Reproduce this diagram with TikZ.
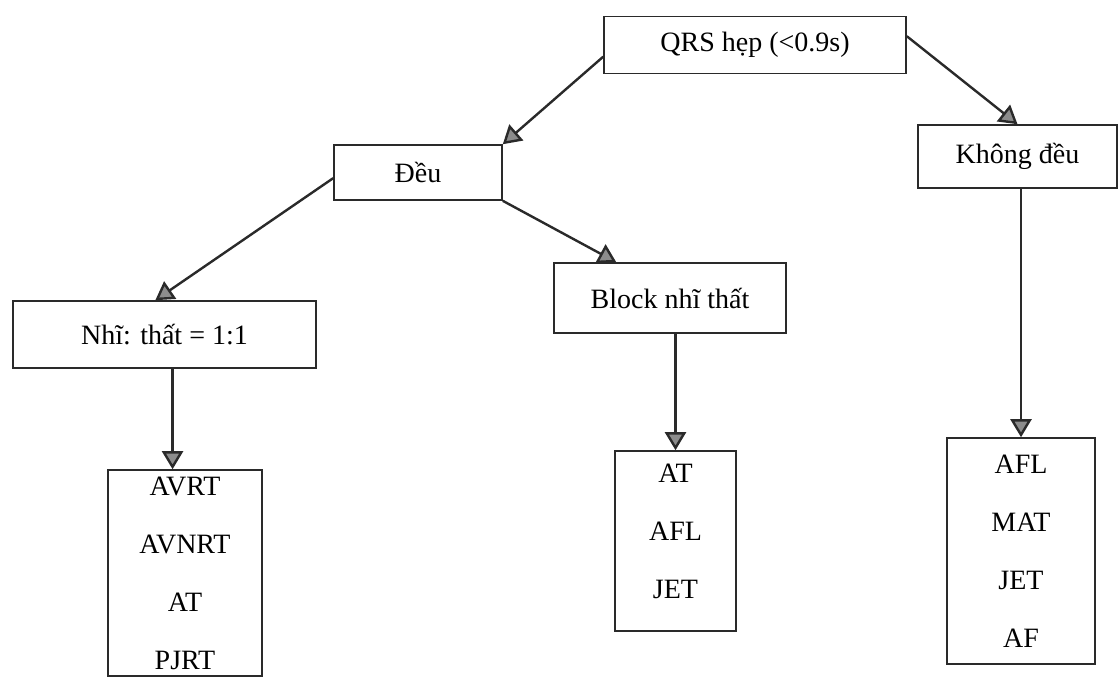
\documentclass[tikz,border=0pt]{standalone}
\usepackage{fontspec}
\setmainfont{Liberation Serif}
\usetikzlibrary{positioning,arrows.meta,calc}
\definecolor{trigris}{HTML}{8C8C8C}
\definecolor{linea}{HTML}{2A2A2A}

\begin{document}
\begin{tikzpicture}[x=0.5pt,y=-0.5pt,font=\fontsize{14}{29}\selectfont,
        n/.style={draw=linea,line width=0.8pt,fill=white,inner sep=2pt,align=center},
        f/.style={linea,line width=1.2pt,-{Triangle[length=9pt,width=10.5pt,fill=trigris]}}]
  \useasboundingbox (0,0) rectangle (1119,677);
  % hang tren
  \node[n,minimum width=151pt,minimum height=28.5pt] (qrs) at (755,45) {QRS hẹp (<0.9s)};
  \node[n,minimum width=84pt,minimum height=27.5pt] (deu) at (418,172.5) {Đều};
  \node[n,minimum width=99.5pt,minimum height=31.5pt] (kd) at (1017.5,156.5) {Không đều};
  \node[n,minimum width=151.5pt,minimum height=33.5pt] (nt) at (164.5,334.5) {Nhĩ: thất = 1:1};
  \node[n,minimum width=116pt,minimum height=35pt] (blk) at (670,298) {Block nhĩ thất};
  % cac o danh sach
  \node[n,minimum width=77pt,minimum height=103pt] (l1) at (185,573) {AVRT\\AVNRT\\AT\\PJRT};
  \node[n,minimum width=60.5pt,minimum height=90pt] (l2) at (675.5,541) {AT\\AFL\\JET\\[-19pt]\mbox{}};
  \node[n,minimum width=74pt,minimum height=113pt] (l3) at (1021,551) {AFL\\MAT\\JET\\AF};
  \draw[f] ($(qrs.north west)!0.7!(qrs.south west)$) -- (deu.north east);
  \draw[f] ($(qrs.north east)!0.35!(qrs.south east)$) -- (kd.north);
  \draw[f] ($(deu.north west)!0.6!(deu.south west)$) -- ($(nt.north west)!0.47!(nt.north east)$);
  \draw[f] (deu.south east) -- ($(blk.north west)!0.27!(blk.north east)$);
  \coordinate (t1) at ($(l1.north west)!0.42!(l1.north east)$);
  \draw[f] (nt.south -| t1) -- (t1);
  \draw[f] (blk.south -| l2.north) -- (l2.north);
  \draw[f] (kd.south -| l3.north) -- (l3.north);
\end{tikzpicture}
\end{document}
